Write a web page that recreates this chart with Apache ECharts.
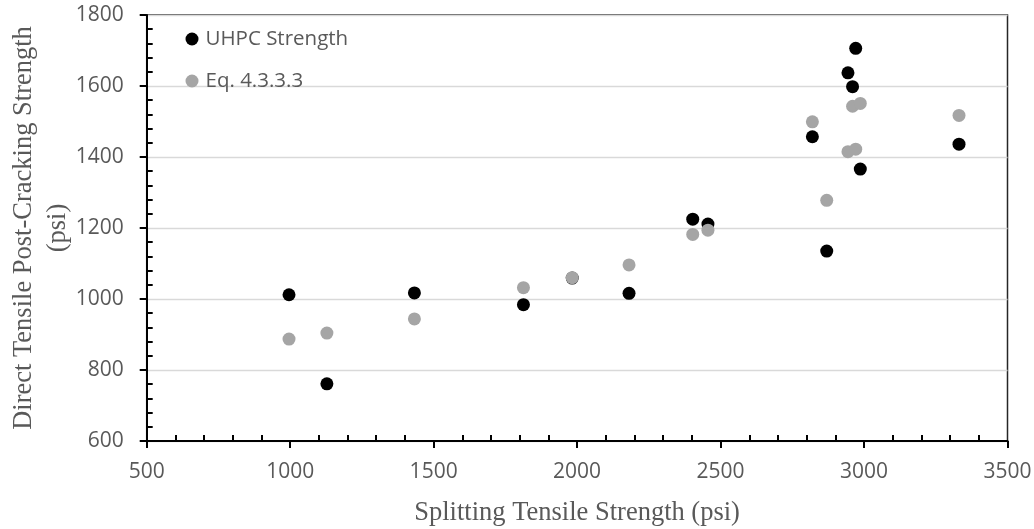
<!DOCTYPE html>
<html>
<head>
<meta charset="utf-8">
<script src="https://cdn.jsdelivr.net/npm/echarts@6/dist/echarts.min.js"></script>
<style>
  html, body { margin: 0; padding: 0; background: #fff; }
  #chart { width: 1034px; height: 529px; }
</style>
</head>
<body>
<div id="chart"></div>
<script>
// Splitting tensile strength (psi) of each specimen
const splittingStrength = [996, 1128, 1433, 1813, 1983, 2181, 2403, 2456, 2820, 2870, 2944, 2960, 2971, 2987, 3331];
// Measured direct tensile post-cracking strength (psi)
const uhpcStrength = [1012, 761, 1017, 984, 1059, 1016, 1225, 1211, 1457, 1135, 1637, 1598, 1706, 1366, 1436];
// Predicted strength from Eq. 4.3.3.3 (psi)
const eqStrength = [887, 904, 944, 1032, 1060, 1096, 1182, 1194, 1499, 1278, 1415, 1543, 1422, 1551, 1517];

const seriesNames = ['UHPC Strength', 'Eq. 4.3.3.3'];
const xTitle = 'Splitting Tensile Strength (psi)';
const yTitle = 'Direct Tensile Post-Cracking Strength\n(psi)';

const xRange = { min: 500, max: 3500, interval: 500 };
const yRange = { min: 600, max: 1800, interval: 200 };

const pairs = (ys) => splittingStrength.map((x, i) => [x, ys[i]]);
const plain = (v) => String(v);

const labelFont = { fontFamily: 'Open Sans', fontSize: 21, color: '#595959' };
const titleFont = { fontFamily: 'Liberation Serif', fontSize: 26.5, color: '#595959' };
const tickLine = { color: '#000', width: 2 };

// Main axes carry the line, outward major ticks and labels;
// companion axes on the same grid add the inward minor ticks.
const mainX = Object.assign({
  type: 'value', position: 'bottom',
  name: xTitle, nameLocation: 'middle', nameGap: 59, nameMoveOverlap: false,
  nameTextStyle: titleFont,
  axisLine: { show: true, onZero: false, lineStyle: { color: '#000', width: 2 } },
  axisTick: { show: true, inside: false, length: 7, lineStyle: tickLine },
  minorTick: { show: false },
  axisLabel: Object.assign({ margin: 21, formatter: plain }, labelFont),
  splitLine: { show: false }
}, xRange);
const minorX = Object.assign({
  type: 'value', position: 'bottom',
  axisLine: { show: false, onZero: false },
  axisTick: { show: false, inside: true },
  minorTick: { show: true, splitNumber: 5, length: 6, lineStyle: tickLine },
  axisLabel: { show: false },
  splitLine: { show: false }
}, xRange);
const mainY = Object.assign({
  type: 'value', position: 'left',
  name: yTitle, nameLocation: 'middle', nameGap: 72, nameRotate: 90, nameMoveOverlap: false,
  nameTextStyle: Object.assign({ lineHeight: 34, align: 'center' }, titleFont),
  axisLine: { show: true, onZero: false, lineStyle: { color: '#000', width: 2 } },
  axisTick: { show: true, inside: false, length: 7, lineStyle: tickLine },
  minorTick: { show: false },
  axisLabel: Object.assign({ margin: 23, formatter: plain }, labelFont),
  splitLine: { show: true, lineStyle: { color: '#D9D9D9', width: 1.3 } }
}, yRange);
const minorY = Object.assign({
  type: 'value', position: 'left',
  axisLine: { show: false, onZero: false },
  axisTick: { show: false, inside: true },
  minorTick: { show: true, splitNumber: 5, length: 6, lineStyle: tickLine },
  axisLabel: { show: false },
  splitLine: { show: false }
}, yRange);

const chart = echarts.init(document.getElementById('chart'), null, { renderer: 'canvas' });
chart.setOption({
  animation: false,
  backgroundColor: '#ffffff',
  grid: {
    left: 146.7, right: 26.5, top: 15, bottom: 88,
    containLabel: false, outerBoundsMode: 'none',
    show: true, borderColor: '#262626', borderWidth: 1.5
  },
  legend: {
    orient: 'vertical',
    left: 180.5, top: 23.5,
    itemWidth: 13, itemHeight: 13, itemGap: 21,
    icon: 'circle',
    textStyle: { fontFamily: 'Open Sans', fontSize: 20.5, color: '#595959', padding: [0, 0, 0, 2] },
    data: seriesNames
  },
  xAxis: [mainX, minorX],
  yAxis: [mainY, minorY],
  series: [
    {
      name: seriesNames[0], type: 'scatter', symbol: 'circle', symbolSize: 13,
      itemStyle: { color: '#000000', opacity: 1 },
      data: pairs(uhpcStrength)
    },
    {
      name: seriesNames[1], type: 'scatter', symbol: 'circle', symbolSize: 13,
      itemStyle: { color: '#A5A5A5', opacity: 1 },
      data: pairs(eqStrength)
    }
  ]
});
</script>
</body>
</html>
